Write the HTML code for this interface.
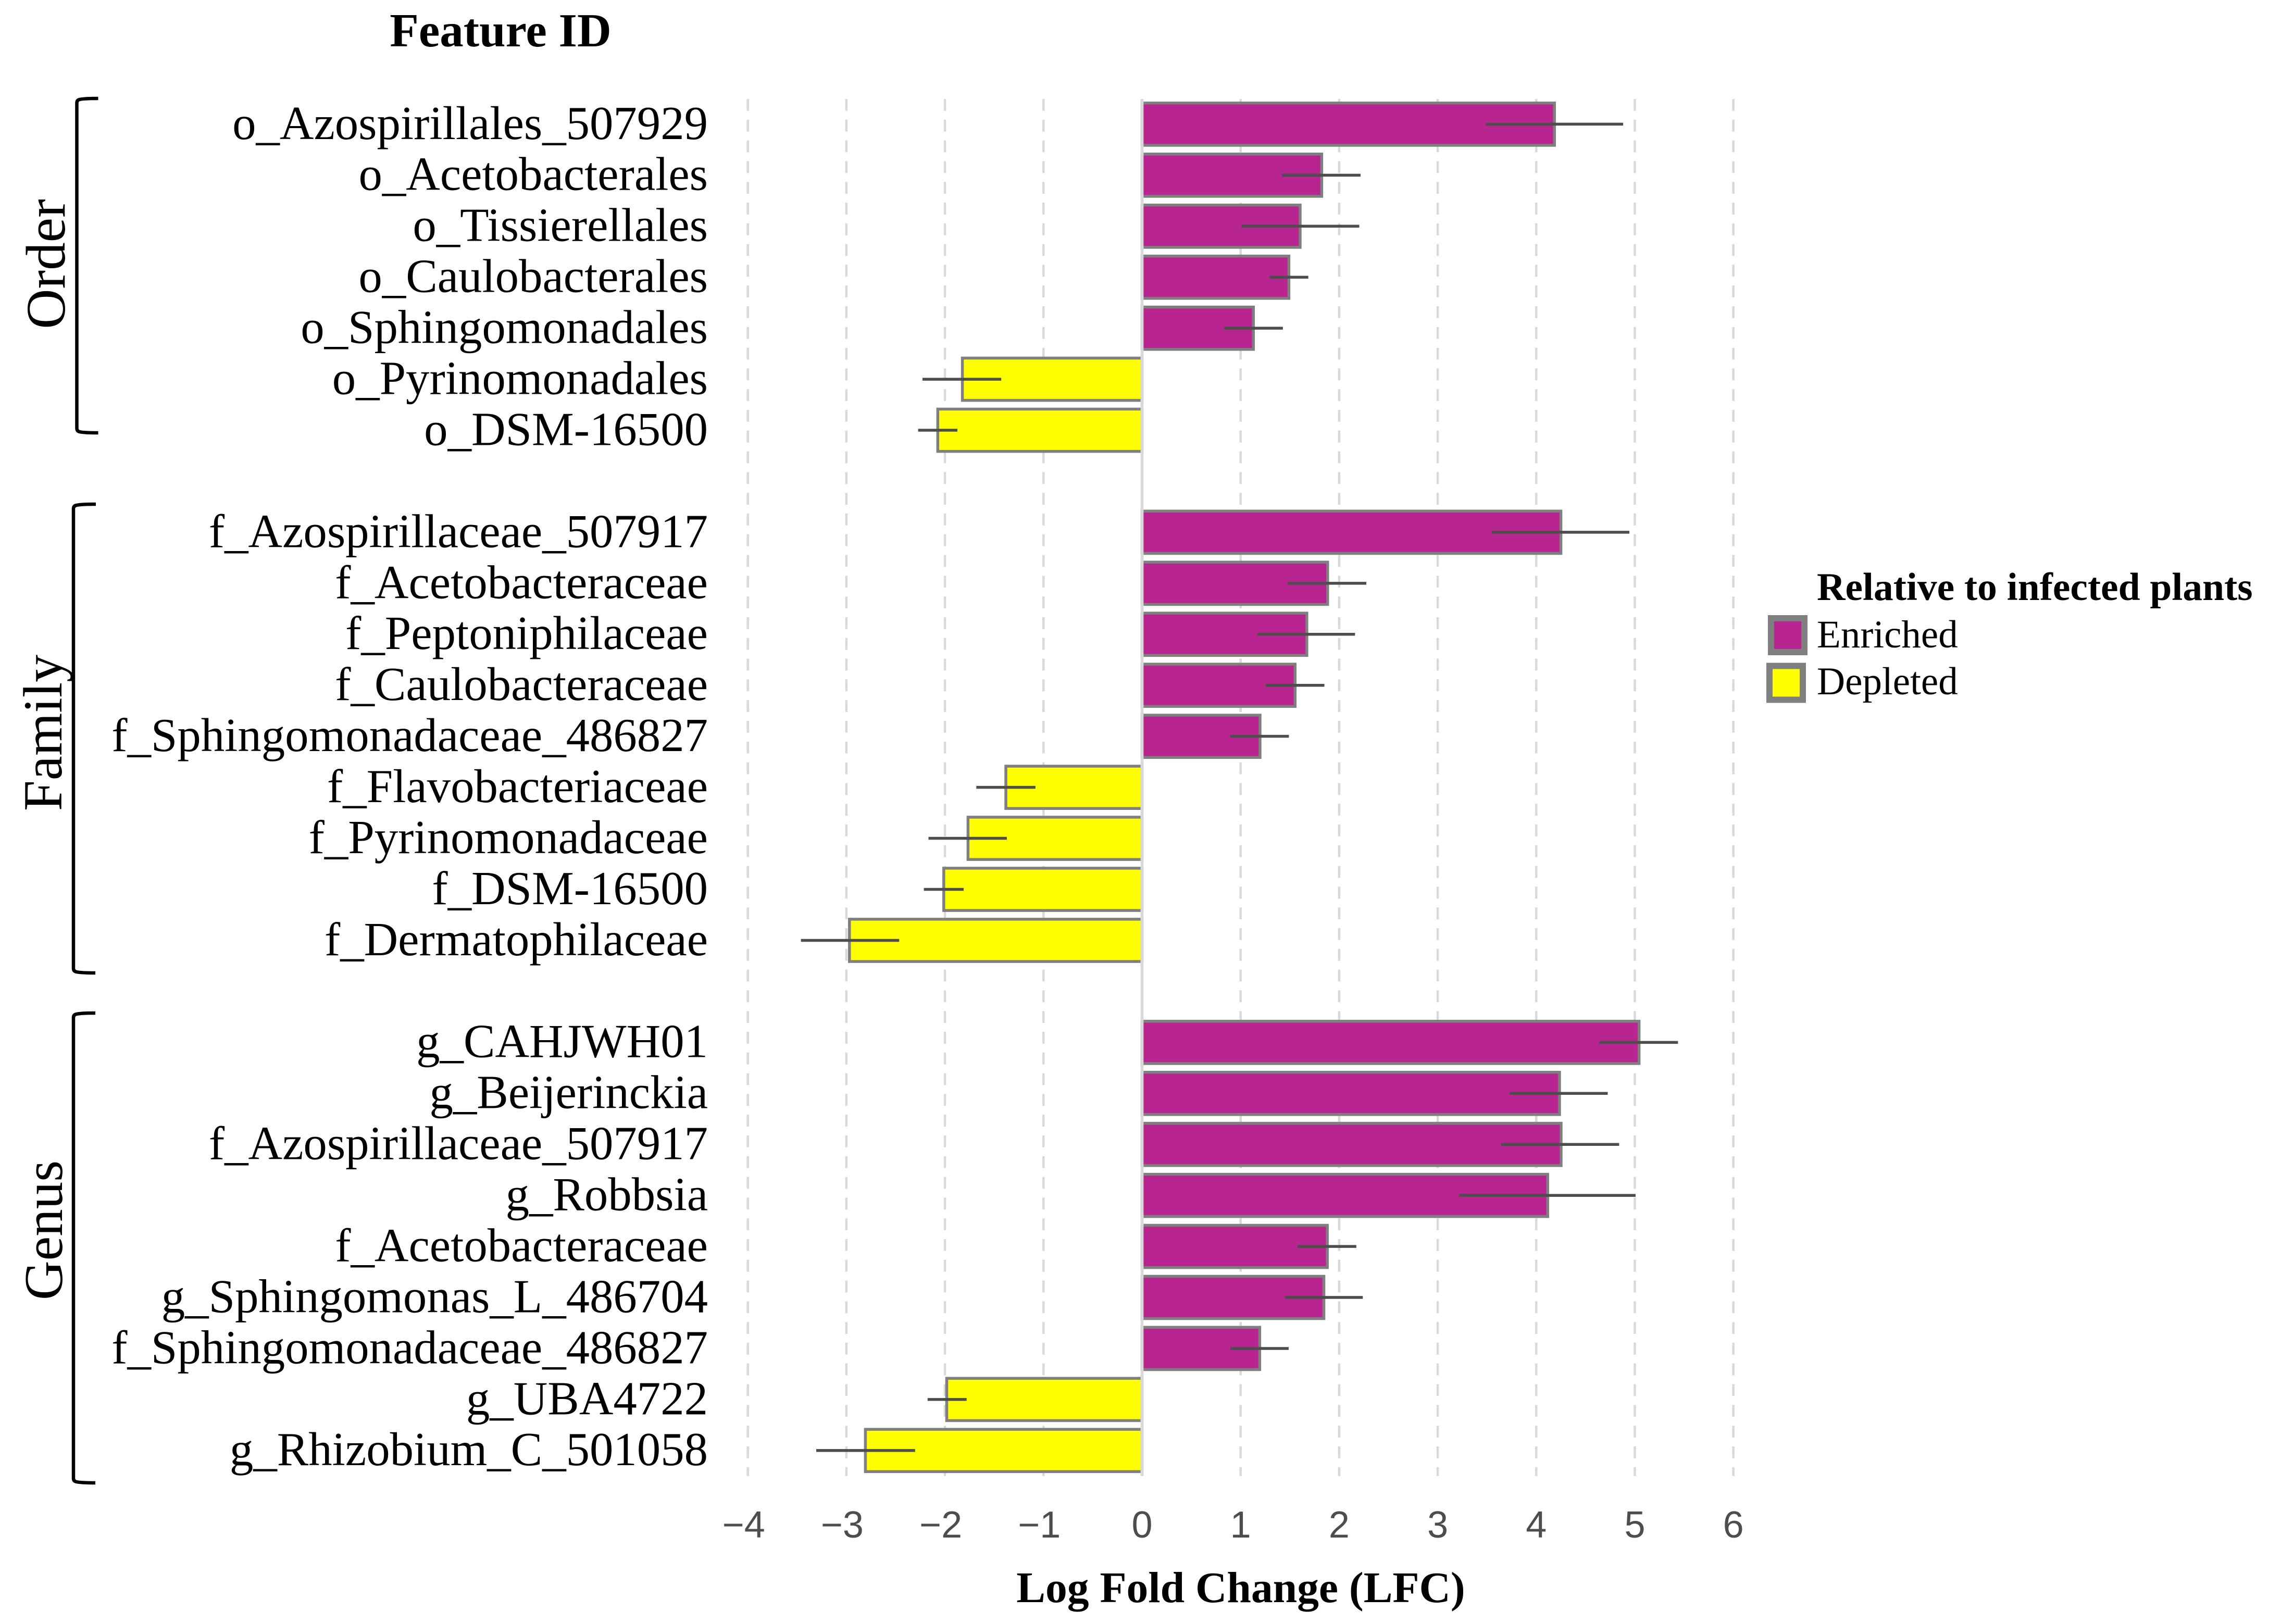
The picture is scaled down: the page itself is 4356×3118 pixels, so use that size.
<!DOCTYPE html>
<html lang="en">
<head>
<meta charset="utf-8">
<title>Log Fold Change by Feature ID</title>
<style>
html,body{margin:0;padding:0;background:#fff;}
svg{display:block;}
text{font-family:"Liberation Serif","Times New Roman",serif;}
.tick{font-family:"Liberation Sans",Arial,sans-serif;font-size:72px;fill:#4d4d4d;text-anchor:middle;}
.label{font-size:90.8px;fill:#000;text-anchor:end;}
</style>
</head>
<body>
<svg id="chart" xmlns="http://www.w3.org/2000/svg" width="4356" height="3118" viewBox="0 0 4356 3118">
  <rect x="0" y="0" width="4356" height="3118" fill="#ffffff"/>
  <g id="grid"></g>
  <g id="bars"></g>
  <g id="zero"></g>
  <g id="errors"></g>
  <g id="labels"></g>
  <g id="ticks"></g>

  <text x="961" y="89" text-anchor="middle" font-weight="bold" font-size="91">Feature ID</text>
  <text x="2382" y="3076" text-anchor="middle" font-weight="bold" font-size="83.6">Log Fold Change (LFC)</text>

  <path d="M188.5 189 Q160 189 153 191 Q147.5 192 147.5 198 L147.5 822 Q147.5 828 153 829 Q160 831 188.5 831" fill="none" stroke="#000" stroke-width="6.5"/>
  <path d="M184 968 Q156 968 147 970 Q141 971 141 977 L141 1859 Q141 1865 147 1866 Q156 1868 183 1868" fill="none" stroke="#000" stroke-width="6.5"/>
  <path d="M183 1945 Q155 1945 147 1947 Q141 1948 141 1954 L141 2838 Q141 2844 147 2845 Q155 2847 183 2847" fill="none" stroke="#000" stroke-width="6.5"/>

  <text transform="translate(124,507) rotate(-90)" text-anchor="middle" font-size="107">Order</text>
  <text transform="translate(118,1407) rotate(-90)" text-anchor="middle" font-size="106">Family</text>
  <text transform="translate(119,2362) rotate(-90)" text-anchor="middle" font-size="105">Genus</text>

  <g>
    <text x="3488" y="1152" font-weight="bold" font-size="75.5">Relative to infected plants</text>
    <rect x="3400" y="1187" width="64" height="65" fill="#b82590" stroke="#7f7f7f" stroke-width="12"/>
    <text x="3488" y="1243" font-size="75">Enriched</text>
    <rect x="3397" y="1278.5" width="64" height="65" fill="#ffff00" stroke="#7f7f7f" stroke-width="12"/>
    <text x="3488" y="1333" font-size="75">Depleted</text>
  </g>
</svg>
<script>
const orderLabels = ["o_Azospirillales_507929","o_Acetobacterales","o_Tissierellales","o_Caulobacterales","o_Sphingomonadales","o_Pyrinomonadales","o_DSM-16500"];
const orderLfc    = [4.185,1.823,1.604,1.49,1.13,-1.823,-2.073];
const orderLow    = [3.488,1.42,1.008,1.293,0.833,-2.228,-2.272];
const orderHigh   = [4.882,2.217,2.204,1.687,1.429,-1.429,-1.874];

const familyLabels = ["f_Azospirillaceae_507917","f_Acetobacteraceae","f_Peptoniphilaceae","f_Caulobacteraceae","f_Sphingomonadaceae_486827","f_Flavobacteriaceae","f_Pyrinomonadaceae","f_DSM-16500","f_Dermatophilaceae"];
const familyLfc    = [4.25,1.883,1.672,1.553,1.197,-1.382,-1.766,-2.012,-2.969];
const familyLow    = [3.55,1.479,1.168,1.253,0.893,-1.682,-2.167,-2.214,-3.461];
const familyHigh   = [4.945,2.276,2.161,1.85,1.49,-1.082,-1.372,-1.81,-2.464];

const genusLabels = ["g_CAHJWH01","g_Beijerinckia","f_Azospirillaceae_507917","g_Robbsia","f_Acetobacteraceae","g_Sphingomonas_L_486704","f_Sphingomonadaceae_486827","g_UBA4722","g_Rhizobium_C_501058"];
const genusLfc    = [5.043,4.236,4.252,4.116,1.88,1.845,1.194,-1.982,-2.807];
const genusLow    = [4.64,3.729,3.643,3.217,1.578,1.45,0.895,-2.176,-3.306];
const genusHigh   = [5.438,4.725,4.841,5.008,2.174,2.24,1.488,-1.78,-2.303];

const tickValues = [-4,-3,-2,-1,0,1,2,3,4,5,6];

const NS = "http://www.w3.org/2000/svg";
const x0 = 2192.5, unit = 189.2, rowTop = 238.4, rowStep = 97.94, barH = 81.2;
const plotTop = 190, plotBottom = 2834;

function xScale(v){ return x0 + v * unit; }
function yScale(slot){ return rowTop + slot * rowStep; }
function mk(tag, attrs, parent){
  const el = document.createElementNS(NS, tag);
  for (const k in attrs) el.setAttribute(k, attrs[k]);
  parent.appendChild(el);
  return el;
}

const gridG = document.getElementById("grid");
const barsG = document.getElementById("bars");
const zeroG = document.getElementById("zero");
const errG = document.getElementById("errors");
const labG = document.getElementById("labels");
const tickG = document.getElementById("ticks");

tickValues.forEach(function(t){
  const px = xScale(t);
  if (t !== 0) {
    const g = mk("line", {x1:px, x2:px, y1:plotTop, y2:plotBottom, stroke:"#d9d9d9", "stroke-width":4.5, "stroke-dasharray":"22.8 17"}, gridG);
    
    
  }
  const lab = mk("text", {x: t < 0 ? px - 8 : px, y:2952, class:"tick"}, tickG);
  lab.textContent = (t < 0 ? "\u2212" + Math.abs(t) : String(t));
  
  
});

function drawGroup(labels, lfc, low, high, startSlot){
  labels.forEach(function(name, i){
    const cy = yScale(startSlot + i);
    const v = lfc[i];
    const xa = Math.min(xScale(0), xScale(v));
    const w = Math.abs(xScale(v) - xScale(0));
    const bar = mk("rect", {x:xa, y:cy - barH/2, width:w, height:barH, fill: v >= 0 ? "#b82590" : "#ffff00", stroke:"#7f7f7f", "stroke-width":5.5}, barsG);
    
    
    const err = mk("line", {x1:xScale(low[i]), x2:xScale(high[i]), y1:cy, y2:cy, stroke:"#4d4d4d", "stroke-width":5.5}, errG);
    
    
    const t = mk("text", {x:1359, y:cy + 28.4, class:"label"}, labG);
    t.textContent = name;
    
    
  });
  return startSlot + labels.length + 1;
}

let slot = 0;
slot = drawGroup(orderLabels, orderLfc, orderLow, orderHigh, slot);
slot = drawGroup(familyLabels, familyLfc, familyLow, familyHigh, slot);
slot = drawGroup(genusLabels, genusLfc, genusLow, genusHigh, slot);

const zeroLine = mk("line", {x1:xScale(0), x2:xScale(0), y1:plotTop, y2:plotBottom, stroke:"#d9d9d9", "stroke-width":5.8}, zeroG);


</script>
</body>
</html>
